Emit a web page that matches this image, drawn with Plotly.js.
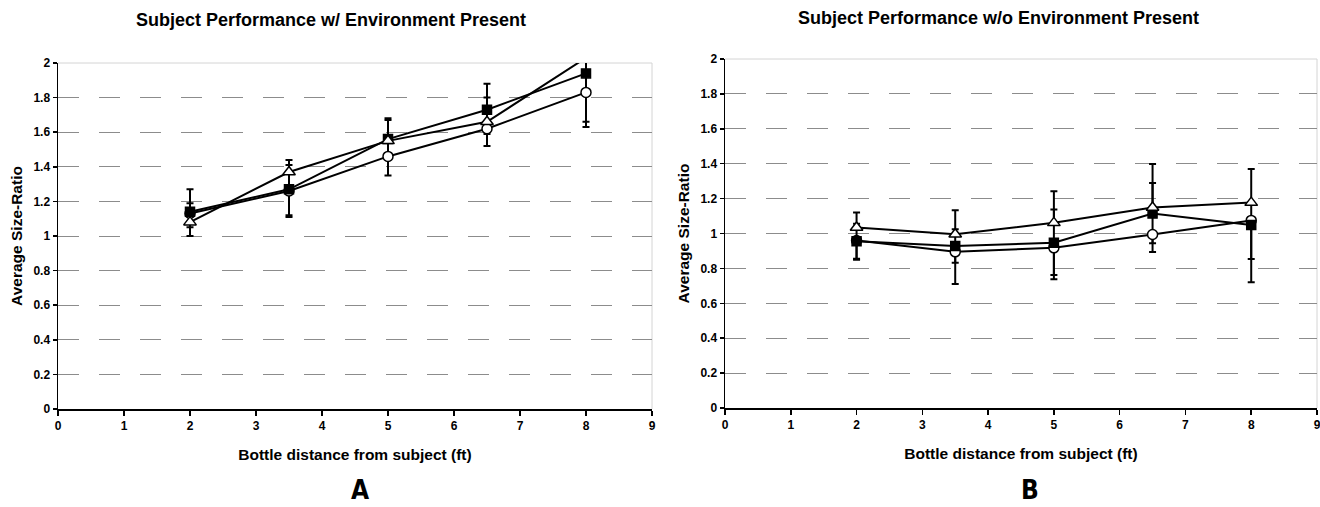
<!DOCTYPE html>
<html>
<head>
<meta charset="utf-8">
<script src="https://cdn.plot.ly/plotly-3.0.1.min.js"></script>
<style>
  html, body { margin: 0; padding: 0; background: #ffffff; }
  #chart { width: 1320px; height: 507px; }
</style>
</head>
<body>
<div id="chart"></div>
<script>
// ---- data ----
const distances = [2, 3.5, 5, 6.5, 8];

// Panel A: with environment present
const aSquare      = [1.14, 1.27, 1.56, 1.73, 1.94];
const aSquarePlus  = [0.13, 0.14, 0.11, 0.15, 0.20];
const aSquareMinus = [0.09, 0.15, 0.10, 0.14, 0.28];
const aCircle      = [1.13, 1.26, 1.46, 1.62, 1.83];
const aCirclePlus  = [0, 0, 0, 0, 0];
const aCircleMinus = [0.13, 0.15, 0.11, 0.10, 0.20];
const aTriangle      = [1.08, 1.37, 1.55, 1.66, 2.03];
const aTrianglePlus  = [0.11, 0.07, 0.13, 0.14, 0.15];
const aTriangleMinus = [0, 0, 0, 0, 0];

// Panel B: without environment present
const bSquare      = [0.956, 0.928, 0.947, 1.114, 1.049];
const bSquarePlus  = [0.10, 0.096, 0.19, 0.176, 0.12];
const bSquareMinus = [0.10, 0.096, 0.185, 0.17, 0.195];
const bCircle      = [0.96, 0.895, 0.918, 0.994, 1.075];
const bCirclePlus  = [0, 0, 0, 0, 0];
const bCircleMinus = [0.11, 0.185, 0.18, 0.10, 0.355];
const bTriangle      = [1.034, 0.996, 1.061, 1.149, 1.177];
const bTrianglePlus  = [0.086, 0.137, 0.181, 0.249, 0.193];
const bTriangleMinus = [0, 0, 0, 0, 0];

const titleA = 'Subject Performance w/ Environment Present';
const titleB = 'Subject Performance w/o Environment Present';
const xTitle = 'Bottle distance from subject (ft)';
const yTitle = 'Average Size-Ratio';
const panelLabels = ['A', 'B'];

// ---- styling ----
const FONT = 'Liberation Sans, Arial, sans-serif';
const lineStyle = { color: '#000000', width: 2 };

// error bars drawn as their own (marker-less) traces, beneath all lines and markers
function errTrace(y, plus, minus, xa, ya) {
  return {
    type: 'scatter', mode: 'markers', x: distances, y: y,
    xaxis: xa, yaxis: ya, showlegend: false, hoverinfo: 'skip',
    marker: { size: 1, opacity: 0, color: '#000000' },
    error_y: { type: 'data', symmetric: false, array: plus, arrayminus: minus,
               color: '#000000', thickness: 2, width: 3.5, visible: true }
  };
}
function series(y, symbol, fill, size, xa, ya) {
  return {
    type: 'scatter', mode: 'lines+markers', x: distances, y: y,
    xaxis: xa, yaxis: ya, showlegend: false,
    line: lineStyle,
    marker: { symbol: symbol, size: size, color: fill,
              line: { color: '#000000', width: 1.5 } }
  };
}

const traces = [
  errTrace(aCircle, aCirclePlus, aCircleMinus, 'x', 'y'),
  errTrace(aSquare, aSquarePlus, aSquareMinus, 'x', 'y'),
  errTrace(aTriangle, aTrianglePlus, aTriangleMinus, 'x', 'y'),
  errTrace(bCircle, bCirclePlus, bCircleMinus, 'x2', 'y2'),
  errTrace(bSquare, bSquarePlus, bSquareMinus, 'x2', 'y2'),
  errTrace(bTriangle, bTrianglePlus, bTriangleMinus, 'x2', 'y2'),
  series(aCircle, 'circle', '#ffffff', 10, 'x', 'y'),
  series(aSquare, 'square', '#000000', 9, 'x', 'y'),
  series(aTriangle, 'triangle-up', '#ffffff', 11, 'x', 'y'),
  series(bCircle, 'circle', '#ffffff', 10, 'x2', 'y2'),
  series(bSquare, 'square', '#000000', 9, 'x2', 'y2'),
  series(bTriangle, 'triangle-up', '#ffffff', 11, 'x2', 'y2')
];

function xAxis(domain, anchor) {
  return {
    domain: domain, anchor: anchor, range: [0, 9], dtick: 1, tick0: 0,
    showgrid: false, zeroline: false,
    showline: true, linecolor: '#000000', linewidth: 1.5,
    ticks: 'outside', ticklen: 5, tickwidth: 1.5, tickcolor: '#000000',
    ticklabeloverflow: 'allow',
    tickfont: { family: FONT, size: 12, color: '#000000', weight: 'bold' },
    title: { text: xTitle, standoff: 17,
             font: { family: FONT, size: 15.5, color: '#000000', weight: 'bold' } }
  };
}
function yAxis(domain, anchor) {
  return {
    domain: domain, anchor: anchor, range: [0, 2], dtick: 0.2, tick0: 0,
    showgrid: true, gridcolor: '#8c8c8c', gridwidth: 1, griddash: '21px,20px',
    zeroline: false,
    showline: true, linecolor: '#000000', linewidth: 1.5,
    ticks: 'outside', ticklen: 4, tickwidth: 1.5, tickcolor: '#000000',
    tickfont: { family: FONT, size: 12, color: '#000000', weight: 'bold' },
    title: { text: yTitle, standoff: 7,
             font: { family: FONT, size: 15.5, color: '#000000', weight: 'bold' } }
  };
}

const W = 1320, H = 507;
const mL = 58, mR = 3, mT = 59, mB = 98;
const pw = W - mL - mR, ph = H - mT - mB;
const px = v => (v - mL) / pw;           // pixel x -> plot-area fraction
const py = v => (H - mB - v) / ph;       // pixel y -> plot-area fraction

const layout = {
  width: W, height: H,
  margin: { l: mL, r: mR, t: mT, b: mB },
  paper_bgcolor: '#ffffff', plot_bgcolor: '#ffffff',
  font: { family: FONT, color: '#000000' },
  showlegend: false,
  xaxis:  xAxis([px(58), px(652)], 'y'),
  yaxis:  yAxis([py(409), py(63)], 'x'),
  xaxis2: xAxis([px(725), px(1317)], 'y2'),
  yaxis2: yAxis([py(408), py(59)], 'x2'),
  shapes: [
    { type: 'line', xref: 'x domain', yref: 'y domain', x0: 0, x1: 1, y0: 1, y1: 1,
      line: { color: '#d4d4d4', width: 1 }, layer: 'below' },
    { type: 'line', xref: 'x domain', yref: 'y domain', x0: 1, x1: 1, y0: 0, y1: 1,
      line: { color: '#d4d4d4', width: 1 }, layer: 'below' },
    { type: 'line', xref: 'x2 domain', yref: 'y2 domain', x0: 0, x1: 1, y0: 1, y1: 1,
      line: { color: '#d4d4d4', width: 1 }, layer: 'below' },
    { type: 'line', xref: 'x2 domain', yref: 'y2 domain', x0: 1, x1: 1, y0: 0, y1: 1,
      line: { color: '#d4d4d4', width: 1 }, layer: 'below' }
  ],
  annotations: [
    { text: titleA, xref: 'paper', yref: 'paper', x: px(331), y: py(20),
      xanchor: 'center', yanchor: 'middle', showarrow: false,
      font: { family: FONT, size: 18, color: '#000000', weight: 'bold' } },
    { text: titleB, xref: 'paper', yref: 'paper', x: px(998), y: py(18),
      xanchor: 'center', yanchor: 'middle', showarrow: false,
      font: { family: FONT, size: 18, color: '#000000', weight: 'bold' } },
    { text: panelLabels[0], xref: 'paper', yref: 'paper', x: px(360), y: py(507),
      xanchor: 'center', yanchor: 'bottom', showarrow: false,
      font: { family: 'DejaVu Sans Condensed, DejaVu Sans, sans-serif', size: 26, color: '#000000', weight: 'bold' } },
    { text: panelLabels[1], xref: 'paper', yref: 'paper', x: px(1030), y: py(507),
      xanchor: 'center', yanchor: 'bottom', showarrow: false,
      font: { family: 'DejaVu Sans Condensed, DejaVu Sans, sans-serif', size: 26, color: '#000000', weight: 'bold' } }
  ]
};

Plotly.newPlot('chart', traces, layout, { staticPlot: true, displayModeBar: false });
</script>
</body>
</html>
